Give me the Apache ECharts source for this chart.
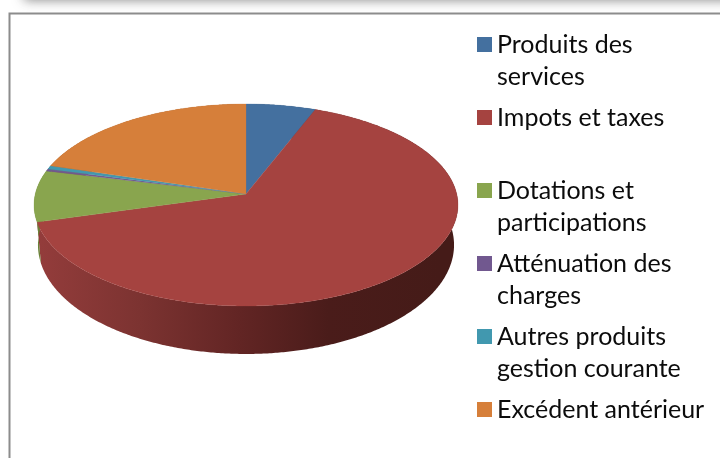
<!DOCTYPE html>
<html>
<head>
<meta charset="utf-8">
<style>html,body{margin:0;padding:0;background:#fff}#chart{width:720px;height:458px}</style>
<script src="https://cdn.jsdelivr.net/npm/echarts@6/dist/echarts.min.js"></script>
</head>
<body>
<div id="chart"></div>
<script>
// Data (share of total)
const categories = ['Produits des services', 'Impots et taxes', 'Dotations et participations', 'Atténuation des charges', 'Autres produits gestion courante', 'Excédent antérieur'];
const legendLines = ['Produits des\nservices', 'Impots et taxes\n ', 'Dotations et\nparticipations', 'Atténuation des\ncharges', 'Autres produits\ngestion courante', 'Excédent antérieur\n '];
const values = [5.9, 64.7, 8.2, 0.35, 0.55, 20.3];
const topColors = ['#44709f', '#a54340', '#89a54e', '#71588f', '#4198af', '#d67f3a'];
const wallColors = ['#2c4a6a', null, '#6b8239', '#4f3e66', '#2c6c7e', '#9c5a26'];

// 3D pie projection
const K = 0.1089;
const topFace = { x: 246, y: 194, a: 99.8, b: 210.7 };
const baseFace = { x: 246, y: 233.1, a: 107.7, b: 206.8 };
function project(face, deg) {
  const t = deg * Math.PI / 180;
  const u = Math.sin(t), v = Math.cos(t), w = 1 + K * v;
  return [face.x + face.b * u / w, face.y - face.a * v / w];
}
function arc(face, from, to) {
  const n = Math.max(2, Math.ceil(Math.abs(to - from) * 2));
  const pts = [];
  for (let i = 0; i <= n; i++) pts.push(project(face, from + (to - from) * i / n));
  return pts;
}
const total = values.reduce((s, x) => s + x, 0);
const redWall = {
  type: 'linear', x: 40, y: 0, x2: 440, y2: 0, global: true,
  colorStops: [
    { offset: 0, color: '#933c3b' },
    { offset: 0.25, color: '#7c3331' },
    { offset: 0.5, color: '#622524' },
    { offset: 0.72, color: '#4a1c1a' },
    { offset: 1, color: '#451b18' }
  ]
};

function sliceSeries(idx) {
  const start = values.slice(0, idx).reduce((s, x) => s + x, 0) / total * 360;
  const end = start + values[idx] / total * 360;
  return {
    type: 'custom',
    name: categories[idx],
    coordinateSystem: 'none',
    silent: true,
    animation: false,
    clip: false,
    itemStyle: { color: topColors[idx] },
    data: [[values[idx]]],
    renderItem: function () {
      const topArc = arc(topFace, start, end);
      const baseArc = arc(baseFace, start, end).reverse();
      return {
        type: 'group',
        children: [
          {
            type: 'polygon', z2: 1,
            shape: { points: topArc.concat(baseArc) },
            style: { fill: idx === 1 ? redWall : wallColors[idx] }
          },
          {
            type: 'polygon', z2: 2,
            shape: { points: [[topFace.x, topFace.y]].concat(topArc) },
            style: { fill: topColors[idx], stroke: topColors[idx], lineWidth: 0.3 }
          }
        ]
      };
    }
  };
}

const chart = echarts.init(document.getElementById('chart'), null, { renderer: 'canvas' });
chart.setOption({
  backgroundColor: '#fff',
  animation: false,
  legend: {
    orient: 'vertical',
    left: 477,
    top: 29,
    itemWidth: 15,
    itemHeight: 64,
    itemGap: 9,
    padding: 0,
    selectedMode: false,
    // square sits beside the first text line
    icon: 'path://M0 0M0 8H15V23H0ZM15 64',
    data: categories,
    formatter: function (name) { return legendLines[categories.indexOf(name)]; },
    textStyle: { fontFamily: 'Lato', fontSize: 25, lineHeight: 32, color: '#0c0c0c' }
  },
  graphic: [
    { type: 'rect', z: -1, shape: { x: 24, y: -12, width: 720, height: 12 },
      style: { fill: '#9a9a9a', shadowColor: 'rgba(120,120,120,0.9)', shadowBlur: 12 } },
    { type: 'polyline', z: -1, shape: { points: [[9.5, 458], [9.5, 13.5], [720, 13.5]] },
      style: { fill: 'none', stroke: '#8c8c8c', lineWidth: 2 } }
  ],
  series: categories.map((_, i) => sliceSeries(i))
});
</script>
</body>
</html>
